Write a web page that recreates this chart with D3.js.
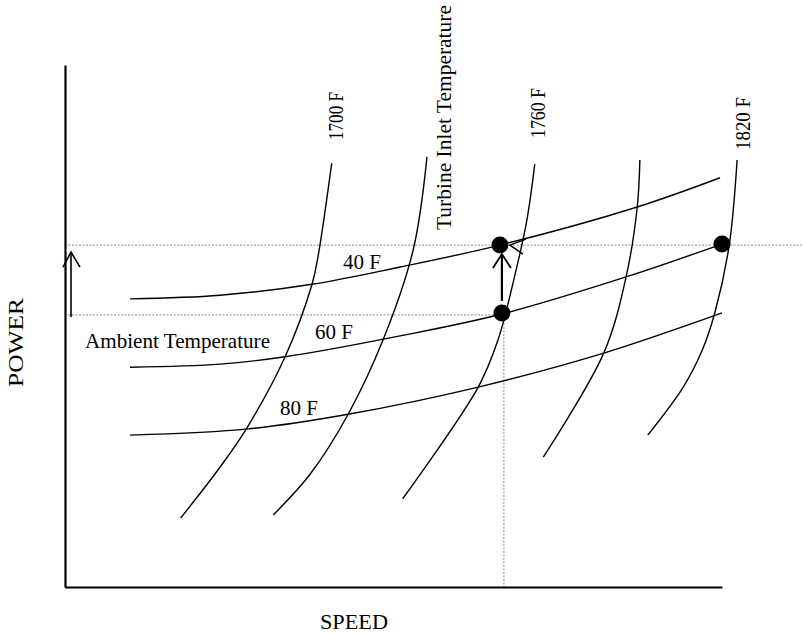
<!DOCTYPE html>
<html><head><meta charset="utf-8">
<script src="https://cdn.jsdelivr.net/npm/d3@7"></script>
<style>
html,body{margin:0;padding:0;background:#fff;}
svg{display:block;}
text{font-family:"Liberation Serif","Times New Roman",serif;fill:#000;}
</style></head>
<body>
<svg id="chart" width="803" height="634"></svg>
<script>
// ---- data (speed, power in arbitrary 0-100 units) ----
const ambientLabels = ["40 F", "60 F", "80 F"];
const ambient40 = [[9.9,55.2],[23.6,55.9],[37.6,58.0],[51.0,61.3],[66.2,65.5],[87.1,72.8],[99.7,78.4]];
const ambient60 = [[9.9,42.1],[23.6,42.7],[33.5,44.1],[51.0,48.1],[66.5,52.3],[85.4,59.4],[100.0,65.7]];
const ambient80 = [[9.9,29.1],[27.9,30.3],[43.1,33.1],[62.9,38.3],[82.0,44.8],[100.0,52.5]];

const turbineLabels = ["1700 F", "", "1760 F", "", "1820 F"];
const turbine1 = [[40.6,81.2],[38.5,63.2],[37.6,58.0],[33.5,44.1],[27.7,30.5],[23.5,22.8],[17.6,13.2]];
const turbine2 = [[55.1,82.4],[53.0,64.6],[48.4,47.3],[43.1,33.1],[37.3,21.6],[31.7,13.8]];
const turbine3 = [[71.5,81.0],[70.3,70.3],[68.3,58.8],[65.9,47.3],[62.9,38.3],[51.4,16.9]];
const turbine4 = [[87.5,81.8],[87.1,72.8],[85.4,59.4],[82.0,44.8],[72.8,24.9]];
const turbine5 = [[102.3,81.8],[101.1,65.5],[98.9,52.5],[97.0,45.4],[94.1,38.3],[88.7,29.1]];

const operatingPoints = [[66.2,65.5],[66.5,52.5],[100.0,65.7]];

// ---- layout ----
const svg = d3.select("#chart");
const x = d3.scaleLinear().domain([0,100]).range([65,722]);
const y = d3.scaleLinear().domain([0,100]).range([587,65]);
const line = d3.line().x(d=>x(d[0])).y(d=>y(d[1])).curve(d3.curveCatmullRom.alpha(0.5));

const [up, low, right] = operatingPoints;

// dotted reference lines
const dotted = svg.append("g").attr("stroke","#8a8a8a").attr("stroke-width",1)
  .attr("stroke-dasharray","2,1.5").attr("fill","none");
dotted.append("line").attr("x1",x(0)).attr("x2",803).attr("y1",y(up[1])).attr("y2",y(up[1]));
dotted.append("line").attr("x1",x(0)).attr("x2",x(low[0])).attr("y1",y(low[1])+2).attr("y2",y(low[1])+2);
dotted.append("line").attr("x1",x(low[0])+2).attr("x2",x(low[0])+2).attr("y1",y(low[1])).attr("y2",y(0));

// axes (no ticks)
const gx = svg.append("g").attr("transform",`translate(0,${y(0)})`)
  .call(d3.axisBottom(x).ticks(0).tickSize(0).tickSizeOuter(0));
const gy = svg.append("g").attr("transform",`translate(${x(0)},0)`)
  .call(d3.axisLeft(y).ticks(0).tickSize(0).tickSizeOuter(0));
[gx,gy].forEach(g=>g.select(".domain").attr("stroke","#000").attr("stroke-width",2.2));

// curves
const curves = svg.append("g").attr("fill","none").attr("stroke","#000").attr("stroke-width",1.4);
[ambient40, ambient60, ambient80].forEach(c=>curves.append("path").attr("d",line(c)));
[turbine1, turbine2, turbine3, turbine4, turbine5].forEach(c=>curves.append("path").attr("d",line(c)));

// operating points
svg.append("g").selectAll("circle").data(operatingPoints).join("circle")
  .attr("cx",d=>x(d[0])).attr("cy",d=>y(d[1])).attr("r",8.5).attr("fill","#000");

// arrows
const arr = svg.append("g").attr("fill","none").attr("stroke","#000");
// left power-gain arrow
const ax = x(0)+6;
arr.append("line").attr("x1",ax).attr("x2",ax).attr("y1",y(low[1])+4).attr("y2",y(up[1])+7).attr("stroke-width",1.6);
arr.append("path").attr("stroke-width",1.6)
  .attr("d",`M${ax-8},${y(up[1])+22} L${ax},${y(up[1])+7} L${ax+9},${y(up[1])+22}`);
// middle arrow between points
const mx = x(low[0]);
arr.append("line").attr("x1",mx).attr("x2",mx).attr("y1",y(low[1])-12).attr("y2",y(up[1])+9).attr("stroke-width",2.2);
arr.append("path").attr("stroke-width",1.8)
  .attr("d",`M${mx-9},${y(up[1])+23} L${mx},${y(up[1])+9} L${mx+9},${y(up[1])+23}`);
// left-pointing arrowhead at upper point
const tx = x(up[0])+10, ty = y(up[1]);
arr.append("path").attr("stroke-width",1.5)
  .attr("d",`M${tx+16},${ty-6} L${tx},${ty} L${tx+13},${ty+9}`);

// labels
svg.append("text").attr("x",343).attr("y",269).attr("font-size",21).text(ambientLabels[0]);
svg.append("text").attr("x",315).attr("y",339).attr("font-size",21).text(ambientLabels[1]);
svg.append("text").attr("x",280).attr("y",415).attr("font-size",21).text(ambientLabels[2]);
svg.append("text").attr("x",85).attr("y",348).attr("font-size",21).attr("textLength",185)
  .attr("lengthAdjust","spacingAndGlyphs").text("Ambient Temperature");

const rot = (px,py,txt,fs,len)=>{
  const t = svg.append("text").attr("transform",`translate(${px},${py}) rotate(-90)`)
    .attr("font-size",fs).text(txt);
  if(len) t.attr("textLength",len).attr("lengthAdjust","spacingAndGlyphs");
  return t;
};
rot(343,140,turbineLabels[0],21,48);
rot(545,138,turbineLabels[2],21,50);
rot(750,150,turbineLabels[4],21,53);
rot(451,230,"Turbine Inlet Temperature",21,225);
rot(23,387,"POWER",22,89);

svg.append("text").attr("x",354).attr("y",629).attr("text-anchor","middle")
  .attr("font-size",22).attr("textLength",68).attr("lengthAdjust","spacingAndGlyphs").text("SPEED");
</script>
</body></html>
